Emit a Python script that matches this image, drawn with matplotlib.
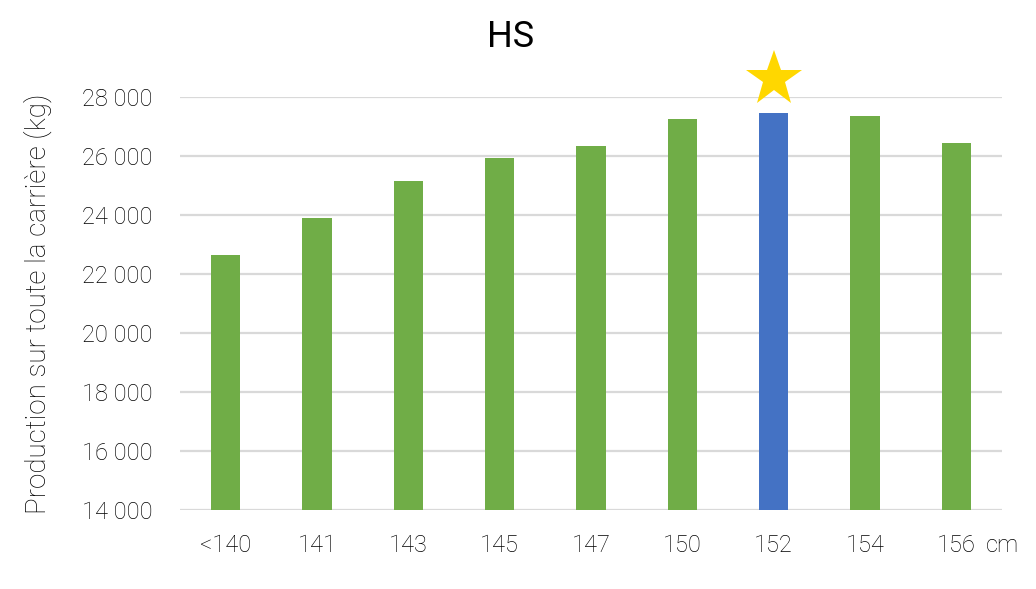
import matplotlib
matplotlib.use("Agg")
import matplotlib.pyplot as plt
from matplotlib.ticker import FuncFormatter, MultipleLocator

categories = ["<140", "141", "143", "145", "147", "150", "152", "154", "156"]
values = [22650, 23900, 25150, 25930, 26340, 27250, 27460, 27360, 26440]
highlight = "152"

green = "#70AD47"
blue = "#4472C4"

plt.rcParams['font.family'] = ['Roboto', 'DejaVu Sans']
plt.rcParams['font.weight'] = 'light'

fig = plt.figure(figsize=(10.36, 5.89), dpi=100)
ax = fig.add_axes([180/1036, 1-510/589, 822/1036, 413/589])

x = list(range(len(categories)))
colors = [blue if c == highlight else green for c in categories]
ax.bar(x, values, width=0.32, color=colors, zorder=3)

ax.set_ylim(14000, 28000)
ax.set_xlim(-0.5, len(categories) - 0.5)
ax.yaxis.set_major_locator(MultipleLocator(2000))
ax.yaxis.set_major_formatter(FuncFormatter(lambda v, p: f"{int(v):,}".replace(",", " ")))
ax.grid(axis='y', color='#D9D9D9', linewidth=1.6, zorder=0)
for s in ax.spines.values():
    s.set_visible(False)
ax.tick_params(axis='both', length=0, labelsize=17, colors='#000000')
ax.tick_params(axis='y', pad=20)
ax.tick_params(axis='x', pad=17)
ax.set_xticks(x)
ax.set_xticklabels(categories)
ax.set_ylabel("Production sur toute la carrière (kg)", fontsize=20, color='#000000',
              labelpad=21, fontweight='light')

# star above highlighted bar
hi = categories.index(highlight)
ax.plot([hi], [values[hi] + 1150], marker='*', markersize=42, color='#FFD700',
        markeredgewidth=0, clip_on=False, zorder=5)

fig.text(1002/1036, 1-546/589, "cm", fontsize=17, color='#000000', ha='center', va='center')
fig.text(511/1036, 1-37/589, "HS", fontsize=26, color='black', ha='center', va='center', fontweight='normal')

fig.savefig("out.png", dpi=100)
